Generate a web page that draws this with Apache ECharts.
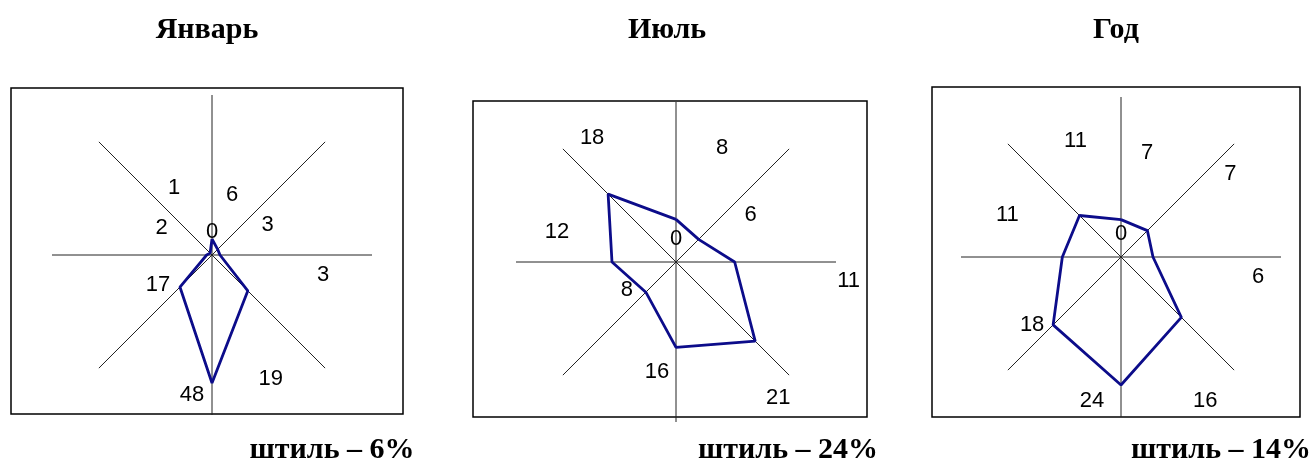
<!DOCTYPE html>
<html>
<head>
<meta charset="utf-8">
<script src="https://cdn.jsdelivr.net/npm/echarts@6.0.0/dist/echarts.min.js"></script>
<style>
  html, body { margin: 0; padding: 0; background: #fff; }
  #main { width: 1314px; height: 463px; }
</style>
</head>
<body>
<div id="main"></div>
<script>
// румбы: С, СВ, В, ЮВ, Ю, ЮЗ, З, СЗ (по часовой стрелке от севера)
const directions = ['С', 'СВ', 'В', 'ЮВ', 'Ю', 'ЮЗ', 'З', 'СЗ']
const janValues = [6, 3, 3, 19, 48, 17, 2, 1]
const julValues = [8, 6, 11, 21, 16, 8, 12, 18]
const yearValues = [7, 7, 6, 16, 24, 18, 11, 11]
const titles = ['Январь', 'Июль', 'Год']
const calmLabels = ['штиль – 6%', 'штиль – 24%', 'штиль – 14%']
const axisMax = [60, 30, 30]

// раскладка (не данные)
const centers = [[212, 255], [676, 262], [1121, 257]]
const frames = [[11, 88, 392, 326], [473, 101, 394, 316], [932, 87, 368, 330]]
const titleX = [202, 662, 1111]
const calmX = [327, 783, 1216]
const labelShift = [
  [[20, -44], [50, -24], [103, 20], [23, 88], [-20, 12], [-22, -2], [-45, -27], [-36, -65]],
  [[46, -71], [52, -24], [114, 19], [23, 57], [-19, 25], [-19, -2], [-55, -30], [-16, -56]],
  [[26, -67], [83, -57], [105, 20], [24, 84], [-29, 16], [-21, 0], [-55, -42], [-4, -75]]
]

const allValues = [janValues, julValues, yearValues]
const step = 360 / directions.length

const chart = echarts.init(document.getElementById('main'))

const polar = [], angleAxis = [], radiusAxis = [], series = []
allValues.forEach((vals, i) => {
  polar.push({ center: centers[i], radius: 160 })
  angleAxis.push({
    polarIndex: i,
    type: 'value',
    min: 0,
    max: 360,
    interval: step,
    startAngle: 90,
    clockwise: true,
    axisLine: { show: false },
    axisTick: { show: false },
    axisLabel: { show: false },
    splitLine: { show: true, lineStyle: { color: '#222', width: 1 } }
  })
  radiusAxis.push({
    polarIndex: i,
    min: 0,
    max: axisMax[i],
    interval: axisMax[i],
    axisLine: { show: false },
    axisTick: { show: false },
    splitLine: { show: false },
    axisLabel: {
      show: true,
      margin: 0,
      align: 'center',
      verticalAlign: 'bottom',
      padding: [0, 0, 12, 0],
      fontFamily: 'Liberation Sans',
      fontSize: 22,
      color: '#000',
      formatter: v => (v === 0 ? '0' : '')
    }
  })
  const data = vals.map((v, k) => ({
    name: directions[k],
    value: [v, k * step],
    label: { offset: labelShift[i][k] }
  }))
  // замыкаем контур
  data.push({ name: directions[0], value: [vals[0], 360], label: { show: false } })
  series.push({
    type: 'line',
    coordinateSystem: 'polar',
    polarIndex: i,
    data: data,
    symbol: 'circle',
    symbolSize: 0,
    silent: true,
    animation: false,
    lineStyle: { color: '#0c0c8a', width: 2.8 },
    itemStyle: { color: '#0c0c8a' },
    label: {
      show: true,
      position: 'inside',
      fontFamily: 'Liberation Sans',
      fontSize: 22,
      color: '#000',
      formatter: p => String(p.value[0])
    }
  })
})

const title = []
titles.forEach((t, i) => {
  title.push({
    text: t,
    left: titleX[i],
    top: 10,
    textAlign: 'center',
    textStyle: { fontFamily: 'Liberation Serif', fontWeight: 'bold', fontSize: 30, color: '#000' }
  })
  title.push({
    text: calmLabels[i],
    left: calmX[i],
    top: 430,
    textAlign: 'center',
    textStyle: { fontFamily: 'Liberation Serif', fontWeight: 'bold', fontSize: 30, color: '#000' }
  })
})

const graphic = frames.map(f => ({
  type: 'rect',
  z: -10,
  silent: true,
  shape: { x: f[0], y: f[1], width: f[2], height: f[3] },
  style: { fill: 'none', stroke: '#000', lineWidth: 1.5 }
}))

chart.setOption({
  backgroundColor: '#fff',
  animation: false,
  title: title,
  polar: polar,
  angleAxis: angleAxis,
  radiusAxis: radiusAxis,
  graphic: graphic,
  series: series
})
</script>
</body>
</html>
